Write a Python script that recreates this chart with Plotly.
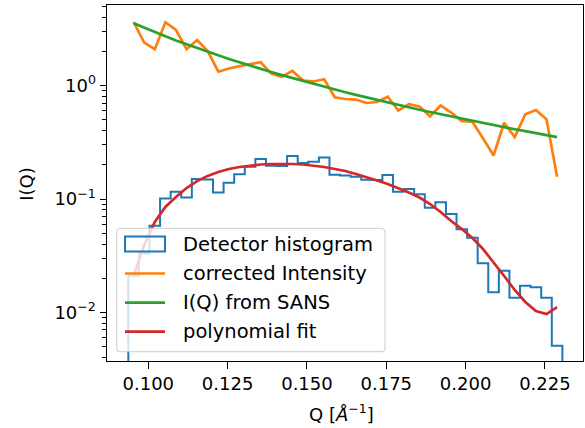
import numpy as np
import plotly.graph_objects as go

# Histogram binning in Q (1/Angstrom)
q_min = 0.0937
q_max = 0.2305
n_bins = 41

# Detector histogram (normalised counts per bin)
hist_counts = [
    0.021, 0.033, 0.058, 0.101, 0.116, 0.103, 0.150, 0.149, 0.114, 0.139,
    0.165, 0.193, 0.226, 0.197, 0.196, 0.240, 0.208, 0.213, 0.233, 0.164,
    0.161, 0.157, 0.148, 0.147, 0.163, 0.116, 0.1226, 0.110, 0.0838, 0.0935,
    0.0737, 0.054, 0.0455, 0.0271, 0.0150, 0.0233, 0.01345, 0.01717, 0.01663, 0.01345,
    0.00507,
]

# Corrected intensity at bin centres
corrected_intensity = [
    3.65, 2.40, 2.10, 3.63, 3.10, 2.10, 2.53, 2.02, 1.33, 1.42,
    1.49, 1.55, 1.61, 1.28, 1.20, 1.35, 1.11, 1.09, 1.14, 0.790,
    0.763, 0.755, 0.704, 0.718, 0.800, 0.604, 0.687, 0.655, 0.537, 0.669,
    0.580, 0.486, 0.481, 0.343, 0.242, 0.471, 0.352, 0.560, 0.610, 0.505,
    0.157,
]

# Reference I(Q) from SANS at bin centres
iq_sans = [
    3.55, 3.24, 2.97, 2.73, 2.51, 2.32, 2.15, 1.99, 1.85, 1.72,
    1.61, 1.50, 1.41, 1.32, 1.24, 1.167, 1.099, 1.037, 0.979, 0.926,
    0.876, 0.830, 0.788, 0.748, 0.711, 0.677, 0.645, 0.614, 0.586, 0.560,
    0.535, 0.511, 0.489, 0.469, 0.449, 0.430, 0.413, 0.397, 0.381, 0.366,
    0.352,
]

# Polynomial fit of the histogram at bin centres
poly_fit = [
    0.0209, 0.0393, 0.0627, 0.0850, 0.1041, 0.125, 0.144, 0.160, 0.173, 0.184,
    0.1915, 0.1975, 0.2016, 0.2037, 0.205, 0.2037, 0.2016, 0.1975, 0.1915, 0.184,
    0.1767, 0.1663, 0.1564, 0.1456, 0.1356, 0.125, 0.1141, 0.1031, 0.0903, 0.0768,
    0.0639, 0.0543, 0.0453, 0.0362, 0.0278, 0.0209, 0.01573, 0.01233, 0.01025, 0.00964,
    0.01111,
]

series_names = ["Detector histogram", "corrected Intensity", "I(Q) from SANS", "polynomial fit"]

x_tick_vals = [0.100, 0.125, 0.150, 0.175, 0.200, 0.225]
y_tick_vals = [0.01, 0.1, 1.0]
y_tick_text = ["10<sup>\u22122</sup>", "10<sup>\u22121</sup>", "10<sup>0</sup>"]
y_minor_vals = [0.004, 0.005, 0.006, 0.007, 0.008, 0.009,
                0.02, 0.03, 0.04, 0.05, 0.06, 0.07, 0.08, 0.09,
                0.2, 0.3, 0.4, 0.5, 0.6, 0.7, 0.8, 0.9,
                2, 3, 4, 5]

x_range = [0.08698, 0.2370]
y_range = [-2.4298, 0.7123]

BLUE, ORANGE, GREEN, RED = "#1f77b4", "#ff7f0e", "#2ca02c", "#d62728"
FONT = "DejaVu Sans"

edges = np.linspace(q_min, q_max, n_bins + 1)
centres = 0.5 * (edges[:-1] + edges[1:])

# Step outline of the histogram, dropping to a baseline well below the axis
baseline = 1e-4
step_x = np.concatenate([[edges[0]], edges, [edges[-1]]])
step_y = np.concatenate([[baseline], hist_counts, [hist_counts[-1], baseline]])

fig = go.Figure()
fig.add_trace(go.Scatter(x=step_x, y=step_y, mode="lines", line=dict(color=BLUE, width=2.0, shape="hv"),
                         name=series_names[0], showlegend=False))
fig.add_trace(go.Scatter(x=centres, y=corrected_intensity, mode="lines", line=dict(color=ORANGE, width=2.7),
                         name=series_names[1], showlegend=False))
fig.add_trace(go.Scatter(x=centres, y=iq_sans, mode="lines", line=dict(color=GREEN, width=2.7),
                         name=series_names[2], showlegend=False))
fig.add_trace(go.Scatter(x=centres, y=poly_fit, mode="lines", line=dict(color=RED, width=2.7),
                         name=series_names[3], showlegend=False))

# Plot-area geometry in pixels
W, H = 585, 428
L, R, T, B = 107, 583, 5, 361


def px_x(px):
    return (px - L) / (R - L)


def px_y(py):
    return (B - py) / (B - T)


# Legend drawn as shapes + annotations (rounded frame, line handles, step patch)
lx0, lx1, ly0, ly1 = 116.7, 385.0, 228.3, 351.7
rad = 4.0
rx, ry = rad / (R - L), rad / (B - T)
X0, X1, Y0, Y1 = px_x(lx0), px_x(lx1), px_y(ly1), px_y(ly0)
frame_path = (
    f"M{X0 + rx},{Y0} L{X1 - rx},{Y0} Q{X1},{Y0} {X1},{Y0 + ry} "
    f"L{X1},{Y1 - ry} Q{X1},{Y1} {X1 - rx},{Y1} "
    f"L{X0 + rx},{Y1} Q{X0},{Y1} {X0},{Y1 - ry} "
    f"L{X0},{Y0 + ry} Q{X0},{Y0} {X0 + rx},{Y0} Z"
)
shapes = [dict(type="path", path=frame_path, xref="paper", yref="paper",
               fillcolor="rgba(255,255,255,0.8)", line=dict(color="rgba(204,204,204,0.8)", width=1.2),
               layer="above")]

row_y = [244.0, 273.5, 302.7, 331.7]
hx0, hx1 = 125.0, 165.0
shapes.append(dict(type="rect", xref="paper", yref="paper",
                   x0=px_x(hx0), x1=px_x(hx1), y0=px_y(row_y[0] + 7.5), y1=px_y(row_y[0] - 7.5),
                   line=dict(color=BLUE, width=2.0), fillcolor="rgba(0,0,0,0)", layer="above"))
for col, yy in zip([ORANGE, GREEN, RED], row_y[1:]):
    shapes.append(dict(type="line", xref="paper", yref="paper",
                       x0=px_x(hx0), x1=px_x(hx1), y0=px_y(yy), y1=px_y(yy),
                       line=dict(color=col, width=2.7), layer="above"))

annotations = []
for name, yy in zip(series_names, row_y):
    annotations.append(dict(text=name, xref="paper", yref="paper", x=px_x(180.5), y=px_y(yy),
                            xanchor="left", yanchor="middle", showarrow=False,
                            font=dict(family=FONT, size=19.5, color="black")))

# Axis titles placed explicitly
annotations.append(dict(text="I(Q)", xref="paper", yref="paper", x=px_x(25.8), y=px_y(184.0),
                        xanchor="center", yanchor="middle", textangle=-90, showarrow=False,
                        font=dict(family=FONT, size=18, color="black")))
annotations.append(dict(text="Q [<i>\u00c5</i><sup>\u22121</sup>]", xref="paper", yref="paper",
                        x=px_x(341.0), y=px_y(412.5), xanchor="center", yanchor="middle",
                        showarrow=False, font=dict(family=FONT, size=18, color="black")))

axis_common = dict(showline=True, linecolor="black", linewidth=1.4, mirror=True,
                   ticks="outside", ticklen=6.3, tickwidth=1.4, tickcolor="black",
                   showgrid=False, zeroline=False,
                   tickfont=dict(family=FONT, size=18, color="black"))

fig.update_layout(
    width=W, height=H,
    margin=dict(l=L, r=W - R, t=T, b=H - B),
    paper_bgcolor="white", plot_bgcolor="white",
    showlegend=False,
    shapes=shapes,
    annotations=annotations,
    xaxis=dict(range=x_range, tickvals=x_tick_vals, tickformat=".3f", **axis_common),
    yaxis=dict(type="log", range=y_range, tickvals=y_tick_vals, ticktext=y_tick_text,
               minor=dict(tickvals=y_minor_vals, ticks="outside", ticklen=3.6, tickwidth=1.1, tickcolor="black"),
               **axis_common),
)

fig.write_html("out.html")
